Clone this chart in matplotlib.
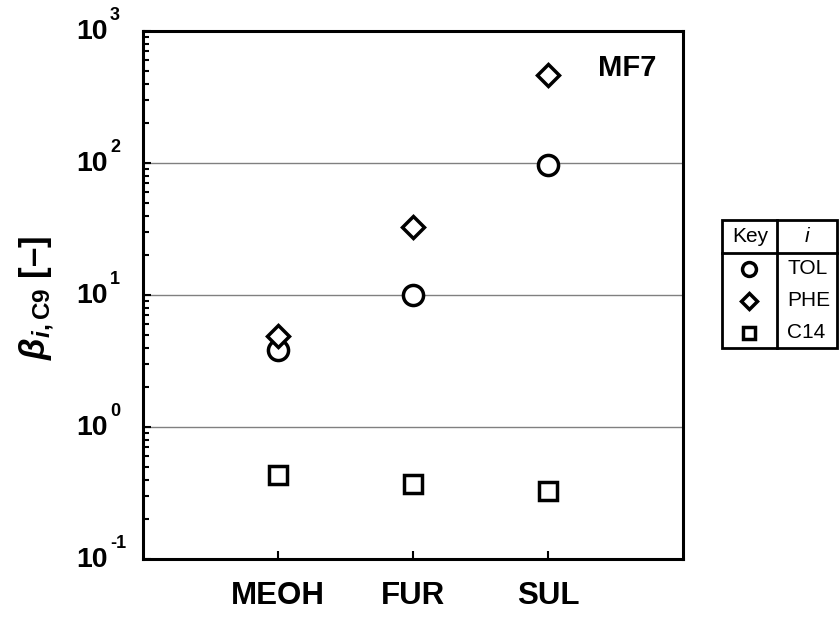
import numpy as np
import matplotlib.pyplot as plt
from matplotlib.patches import Rectangle

plt.rcParams['font.family'] = ['Liberation Sans', 'DejaVu Sans']
plt.rcParams['mathtext.fontset'] = 'custom'
plt.rcParams['mathtext.rm'] = 'Liberation Sans:bold'
plt.rcParams['mathtext.it'] = 'Liberation Sans:bold:italic'
plt.rcParams['mathtext.bf'] = 'Liberation Sans:bold'

# data
solvents = ['MEOH', 'FUR', 'SUL']
keys = ['TOL', 'PHE', 'C14']
tol = [3.8, 10.0, 97.0]
phe = [4.9, 32.5, 468.0]
c14 = [0.43, 0.37, 0.33]
decades = [-1, 0, 1, 2, 3]

markers = ['o', 'D', 's']
msizes = [14.5, 11.5, 13]
x = np.arange(1, len(solvents) + 1)

fig = plt.figure(figsize=(8.4, 6.18), dpi=100)
ax = fig.add_axes([143/840, 59/618, 540/840, 528/618])

for vals, m, ms in zip([tol, phe, c14], markers, msizes):
    ax.plot(x, vals, linestyle='none', marker=m, ms=ms, mfc='white',
            mec='black', mew=2.5, zorder=3)

ax.set_yscale('log')
ax.set_ylim(0.1, 1000)
ax.set_xlim(0, 4)
ax.set_xticks(x)
ax.set_xticklabels(solvents, fontsize=22.5, fontweight='bold')
ax.set_yticks([10.0**d for d in decades])
ax.set_yticklabels([''] * len(decades))
ax.yaxis.set_minor_locator(plt.matplotlib.ticker.LogLocator(base=10, subs=np.arange(2, 10)))
ax.yaxis.set_minor_formatter(plt.NullFormatter())
ax.tick_params(axis='both', which='both', direction='in', top=False, right=False)
ax.tick_params(axis='y', which='major', length=6, width=1.5)
ax.tick_params(axis='y', which='minor', length=4, width=1.5)
ax.tick_params(axis='x', which='major', length=6, width=1.5, pad=16)
ax.yaxis.grid(True, which='major', color='#808080', lw=1)
ax.set_axisbelow(True)
for s in ax.spines.values():
    s.set_linewidth(2.2)

# y tick labels as 10 + small exponent
for d in decades:
    ax.annotate('10', xy=(0, 10.0**d), xycoords=ax.get_yaxis_transform(),
                xytext=(-35, -1), textcoords='offset pixels', ha='right',
                va='center', fontsize=20.5, fontweight='bold')
    ax.annotate(str(d), xy=(0, 10.0**d), xycoords=ax.get_yaxis_transform(),
                xytext=(-33, 16), textcoords='offset pixels', ha='left',
                va='center', fontsize=13, fontweight='bold')

ax.set_ylabel(r'$\beta_{i,\mathrm{C9}}$ [–]', fontsize=25, fontweight='bold')
ax.yaxis.set_label_coords(-0.162, 0.494)

ax.text(0.896, 0.915, 'MF7', transform=ax.transAxes, ha='center',
        va='baseline', fontsize=21, fontweight='bold')

# key table
tab = fig.add_axes([722/840, (618-348)/618, 115/840, 128/618])
tab.set_xlim(0, 115)
tab.set_ylim(128, 0)
tab.axis('off')
tab.add_patch(Rectangle((0, 0), 115, 128, fill=False, lw=2, ec='black', clip_on=False))
tab.plot([55, 55], [0, 128], color='black', lw=2, clip_on=False)
tab.plot([0, 115], [32.7, 32.7], color='black', lw=2, clip_on=False)
tab.text(28, 16, 'Key', ha='center', va='center', fontsize=15)
tab.text(85, 16, 'i', ha='center', va='center', fontsize=15, style='italic')
tab_ms = [10, 8.5, 9]
for k, (name, m, ms) in enumerate(zip(keys, markers, tab_ms)):
    yc = 32.7 + 32 * k + 16
    tab.plot([27], [yc], marker=m, ms=ms, mfc='white', mec='black', mew=2.5,
             linestyle='none', clip_on=False)
    tab.text(65, yc, name, ha='left', va='center', fontsize=15)

fig.savefig('out.png', dpi=100)
